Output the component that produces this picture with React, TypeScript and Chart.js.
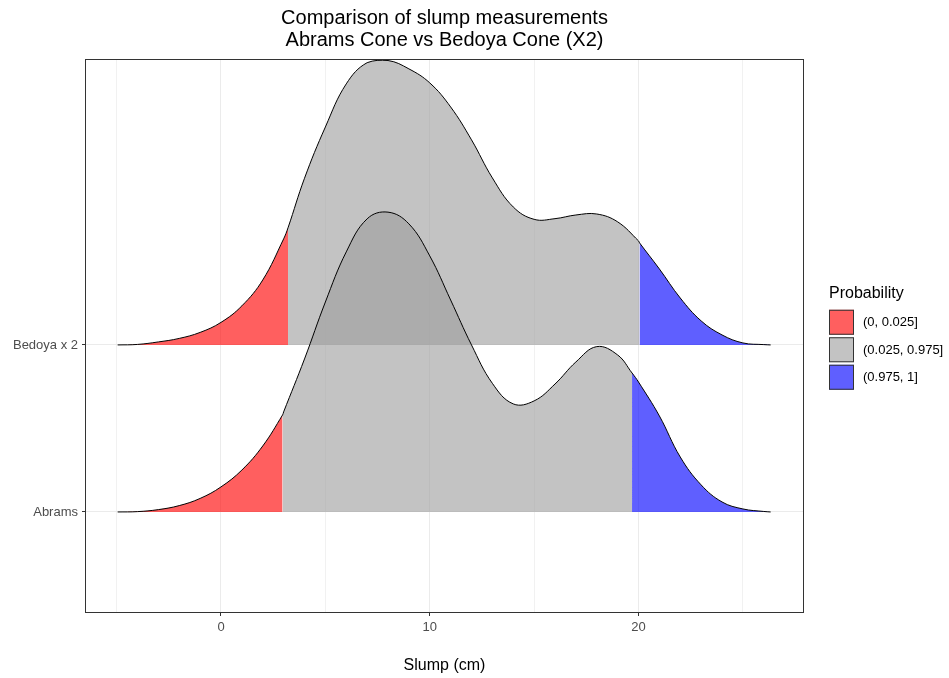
import React, { useEffect, useRef } from 'react';
import { Chart, registerables } from 'chart.js';

Chart.register(...registerables);

// ---- data ----
const titleLines = ['Comparison of slump measurements', 'Abrams Cone vs Bedoya Cone (X2)'];
const xAxisTitle = 'Slump (cm)';
const categories = ['Abrams', 'Bedoya x 2'];
const categoryPositions = [1, 2];

// x positions of the density samples (cm)
const densityX = [-4.95, -4, -3, -2, -1, 0, 1, 2, 3, 4, 5, 6, 7, 8, 9, 10, 11, 12, 13, 14, 15, 16, 17, 18, 19, 20, 21, 22, 23, 24, 25, 26, 26.33];
// scaled ridge heights (in category units) above each baseline
const abramsDensity = [0, 0.002, 0.014, 0.038, 0.081, 0.15, 0.251, 0.395, 0.599, 0.916, 1.257, 1.557, 1.755, 1.795, 1.725, 1.533, 1.269, 1.0, 0.77, 0.647, 0.665, 0.766, 0.898, 0.99, 0.94, 0.778, 0.575, 0.329, 0.162, 0.06, 0.018, 0.003, 0];
const bedoyaDensity = [0, 0.003, 0.018, 0.039, 0.075, 0.135, 0.234, 0.389, 0.635, 0.998, 1.305, 1.563, 1.69, 1.703, 1.653, 1.569, 1.425, 1.228, 1.0, 0.826, 0.752, 0.756, 0.778, 0.784, 0.737, 0.623, 0.455, 0.281, 0.144, 0.06, 0.012, 0.002, 0];

// 2.5% / 97.5% quantile positions and curve heights there
const abramsQuantileX = [2.95, 19.69];
const abramsQuantileH = [0.581, 0.832];
const bedoyaQuantileX = [3.21, 20.05];
const bedoyaQuantileH = [0.701, 0.611];

const legendTitle = 'Probability';
const legendLabels = ['(0, 0.025]', '(0.025, 0.975]', '(0.975, 1]'];
const fillColors = ['rgba(255,0,0,0.627)', 'rgba(160,160,160,0.627)', 'rgba(0,0,255,0.627)'];

const xGridValues = [-5, 0, 5, 10, 15, 20, 25];
const xLabelValues = [0, 10, 20];

const FONT = '"Liberation Sans", Arial, Helvetica, sans-serif';

function buildRidge(base: number, dens: number[], qx: number[], qh: number[]) {
  const pts = densityX.map((x, i) => ({ x, y: base + dens[i] }));
  qx.forEach((x, i) => pts.push({ x, y: base + qh[i] }));
  pts.sort((a, b) => a.x - b.x);
  return pts;
}

function ridgeDataset(label: string, base: number, dens: number[], qx: number[], qh: number[]) {
  return {
    label,
    data: buildRidge(base, dens, qx, qh),
    borderColor: '#000000',
    borderWidth: 1,
    backgroundColor: fillColors[1],
    fill: { value: base },
    pointRadius: 0,
    pointHoverRadius: 0,
    tension: 0.4,
    segment: {
      backgroundColor: (ctx: any) => {
        const mid = (ctx.p0.parsed.x + ctx.p1.parsed.x) / 2;
        if (mid < qx[0]) return fillColors[0];
        if (mid < qx[1]) return fillColors[1];
        return fillColors[2];
      },
    },
  };
}

const panelBorder = {
  id: 'panelBorder',
  afterDatasetsDraw(chart: any) {
    const { ctx, chartArea: a } = chart;
    ctx.save();
    ctx.strokeStyle = '#333333';
    ctx.lineWidth = 1;
    ctx.strokeRect(a.left - 0.5, a.top - 0.5, a.right - a.left + 1, a.bottom - a.top + 1);
    ctx.restore();
  },
};

const ridgeLegend = {
  id: 'ridgeLegend',
  afterDraw(chart: any) {
    const { ctx, chartArea: a } = chart;
    const x0 = a.right + 26;
    const box = 25;
    const step = 27.5;
    const titleH = 26;
    const blockH = titleH + step * legendLabels.length;
    const top = (a.top + a.bottom) / 2 - blockH / 2 + 2;
    ctx.save();
    ctx.textAlign = 'left';
    ctx.textBaseline = 'middle';
    ctx.fillStyle = '#000000';
    ctx.font = `16px ${FONT}`;
    ctx.fillText(legendTitle, x0, top + 10);
    legendLabels.forEach((lab, i) => {
      const y = top + titleH + i * step;
      ctx.fillStyle = '#ffffff';
      ctx.fillRect(x0, y, box, box);
      ctx.fillStyle = fillColors[i];
      ctx.fillRect(x0, y, box, box);
      ctx.strokeStyle = '#333333';
      ctx.lineWidth = 1;
      ctx.strokeRect(x0 + 0.5, y + 0.5, box - 1, box - 1);
      ctx.fillStyle = '#000000';
      ctx.font = `13px ${FONT}`;
      ctx.fillText(lab, x0 + 34, y + box / 2 + 0.5);
    });
    ctx.restore();
  },
};

export default function App() {
  const canvasRef = useRef<HTMLCanvasElement | null>(null);

  useEffect(() => {
    document.body.style.margin = '0';
    const canvas = canvasRef.current;
    if (!canvas) return;
    Chart.defaults.font.family = FONT;

    const chart = new Chart(canvas, {
      type: 'line',
      data: {
        datasets: [
          ridgeDataset(categories[0], categoryPositions[0], abramsDensity, abramsQuantileX, abramsQuantileH),
          ridgeDataset(categories[1], categoryPositions[1], bedoyaDensity, bedoyaQuantileX, bedoyaQuantileH),
        ] as any,
      },
      options: {
        responsive: false,
        animation: false,
        devicePixelRatio: 1,
        layout: { padding: { left: 0, right: 146, top: 0, bottom: 0 } },
        plugins: {
          legend: { display: false },
          tooltip: { enabled: false },
          title: {
            display: true,
            text: titleLines,
            fullSize: false,
            color: '#000000',
            font: { size: 20, weight: 'normal', lineHeight: 1.1, family: FONT },
            padding: { top: 7, bottom: 9 },
          },
        },
        scales: {
          x: {
            type: 'linear',
            min: -6.467,
            max: 27.88,
            afterBuildTicks: (s: any) => {
              s.ticks = xGridValues.map((v) => ({ value: v }));
            },
            afterFit: (s: any) => {
              s.height = 66;
            },
            ticks: {
              autoSkip: false,
              maxRotation: 0,
              padding: 4,
              color: '#4D4D4D',
              font: { size: 13, family: FONT },
              callback: (v: any) => (xLabelValues.includes(Number(v)) ? String(v) : ''),
            },
            grid: {
              color: '#EBEBEB',
              lineWidth: (ctx: any) => (xLabelValues.includes(ctx.tick?.value) ? 1 : 0.7),
              tickLength: 4,
              tickColor: (ctx: any) => (xLabelValues.includes(ctx.tick?.value) ? '#333333' : 'rgba(0,0,0,0)'),
            },
            border: { display: false },
            title: {
              display: true,
              text: xAxisTitle,
              color: '#000000',
              font: { size: 16, family: FONT },
              padding: { top: 0, bottom: 3 },
            },
          },
          y: {
            type: 'linear',
            min: 0.401,
            max: 3.706,
            afterBuildTicks: (s: any) => {
              s.ticks = categoryPositions.map((v) => ({ value: v }));
            },
            afterFit: (s: any) => {
              s.width = 86;
            },
            ticks: {
              autoSkip: false,
              padding: 4,
              color: '#4D4D4D',
              font: { size: 13, family: FONT },
              callback: (v: any) => categories[categoryPositions.indexOf(Number(v))] ?? '',
            },
            grid: {
              color: '#EBEBEB',
              lineWidth: 1,
              tickLength: 4,
              tickColor: '#333333',
            },
            border: { display: false },
          },
        },
      },
      plugins: [panelBorder, ridgeLegend],
    });

    return () => chart.destroy();
  }, []);

  return (
    <div style={{ width: 949, height: 678 }}>
      <canvas ref={canvasRef} width={949} height={678} style={{ display: 'block' }} />
    </div>
  );
}
